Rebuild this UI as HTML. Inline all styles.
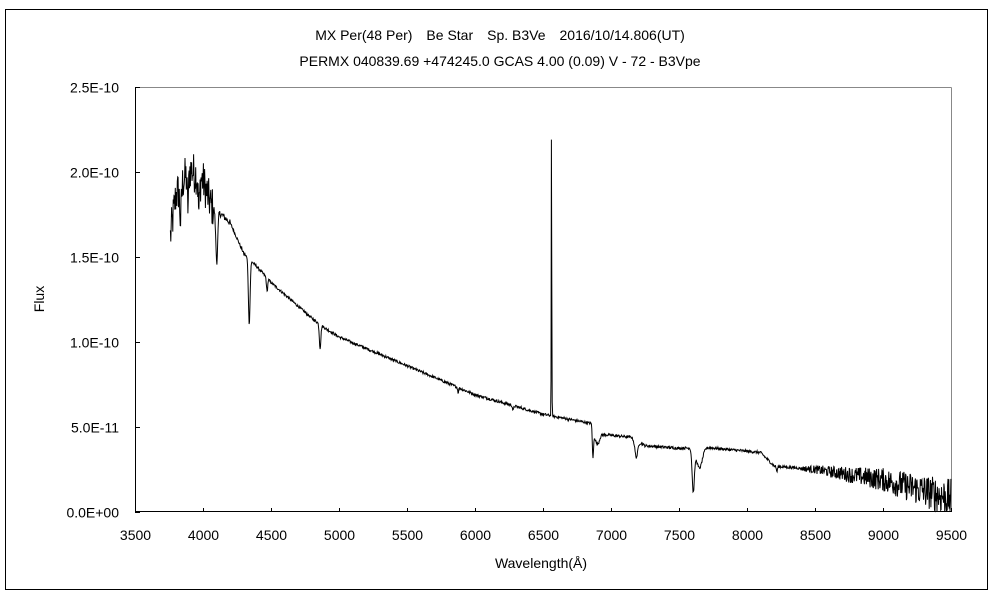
<!DOCTYPE html>
<html><head><meta charset="utf-8"><style>
html,body{margin:0;padding:0;background:#fff;}
svg{display:block;font-family:"Liberation Sans","Noto Sans CJK JP",sans-serif;}
</style></head><body>
<svg id="s" width="1000" height="600" viewBox="0 0 1000 600">
<rect x="0" y="0" width="1000" height="600" fill="#fff"/>
<rect x="5.5" y="9.5" width="982" height="580" fill="none" stroke="#000" stroke-width="1"/>
<text x="500" y="40" font-size="14" text-anchor="middle">MX Per(48 Per)　Be Star　Sp. B3Ve　2016/10/14.806(UT)</text>
<text x="500" y="66" font-size="14" text-anchor="middle">PERMX 040839.69 +474245.0 GCAS 4.00 (0.09) V - 72 - B3Vpe</text>
<line x1="135.5" y1="87.5" x2="951.5" y2="87.5" stroke="#888"/>
<line x1="951.5" y1="87.5" x2="951.5" y2="511.5" stroke="#888"/>
<line x1="135.5" y1="87" x2="135.5" y2="512" stroke="#000"/>
<line x1="135" y1="511.5" x2="952" y2="511.5" stroke="#000"/>
<g id="ticks" stroke="#000"></g>
<g id="lbl" font-size="14"></g>
<text x="541" y="568" font-size="14" text-anchor="middle">Wavelength(Å)</text>
<text x="44" y="299" font-size="14" text-anchor="middle" transform="rotate(-90 44 299)">Flux</text>
<path id="sp" fill="none" stroke="#000" stroke-width="1"/>
</svg>
<script>
var X=function(w){return 135+(w-3500)*0.136;};
var Y=function(f){return 512-f*170;};
var t='',l='';
for(var w=3500;w<=9500;w+=500){var x=Math.round(X(w))+0.5;t+='<line x1="'+x+'" y1="512" x2="'+x+'" y2="508"/>';l+='<text x="'+x+'" y="540" text-anchor="middle">'+w+'</text>';}
var yl=['0.0E+00','5.0E-11','1.0E-10','1.5E-10','2.0E-10','2.5E-10'];
for(var i=0;i<6;i++){var y=Math.round(Y(i*0.5))+0.5;t+='<line x1="135" y1="'+y+'" x2="140" y2="'+y+'"/>';l+='<text x="119" y="'+(y+5)+'" text-anchor="end">'+yl[i]+'</text>';}
document.getElementById('ticks').innerHTML=t;document.getElementById('lbl').innerHTML=l;
var cp=[[3760,1.62],[3800,1.86],[3900,2.02],[4000,1.95],[4060,1.8],[4150,1.74],[4200,1.70],[4300,1.52],[4400,1.44],[4500,1.35],[4600,1.28],[4700,1.21],[4800,1.14],[4900,1.08],[5000,1.03],[5500,0.86],[6000,0.69],[6500,0.575],[6860,0.52],[6875,0.46],[7150,0.44],[7250,0.39],[7500,0.375],[7700,0.38],[8100,0.35],[8200,0.27],[8500,0.25],[9000,0.19],[9500,0.08]];
function cont(w){for(var i=0;i<cp.length-1;i++){if(w<=cp[i+1][0]){var a=cp[i],b=cp[i+1];return a[1]+(b[1]-a[1])*(w-a[0])/(b[0]-a[0]);}}return cp[cp.length-1][1];}
var lines=[[3835,0.2,8],[3889,0.2,8],[3970,0.2,8],[4101,0.3,10],[4340,0.38,9],[4471,0.08,6],[4861,0.14,8],[5876,0.03,5],[6280,0.03,6],[6867,0.17,6],[6900,0.06,20],[7186,0.1,15],[7605,0.25,12],[7650,0.12,30],[8220,0.03,6]];
var seed=12345;function rnd(){seed=(seed*1103515245+12345)%2147483648;return seed/2147483648;}
var d='';
for(var w=3760;w<=9500;w+=3){
 var f=cont(w);
 for(var j=0;j<lines.length;j++){var L=lines[j];f-=L[1]*Math.exp(-Math.pow((w-L[0])/L[2],2));}
 if(Math.abs(w-6563)<1.6)f+=1.63;else f+=1.2*Math.exp(-Math.pow((w-6563)/3,2));
 var n=0;
 if(w<4080)n=0.12;else if(w<4200)n=0.02;else if(w<8400)n=0.008;else n=0.015+(w-8400)/1100*0.1;
 f+=(rnd()-0.5)*2*n;
 if(f<0)f=0;
 d+=(d?'L':'M')+X(w).toFixed(1)+' '+Y(f).toFixed(1);
}
document.getElementById('sp').setAttribute('d',d);
</script>
</body></html>
